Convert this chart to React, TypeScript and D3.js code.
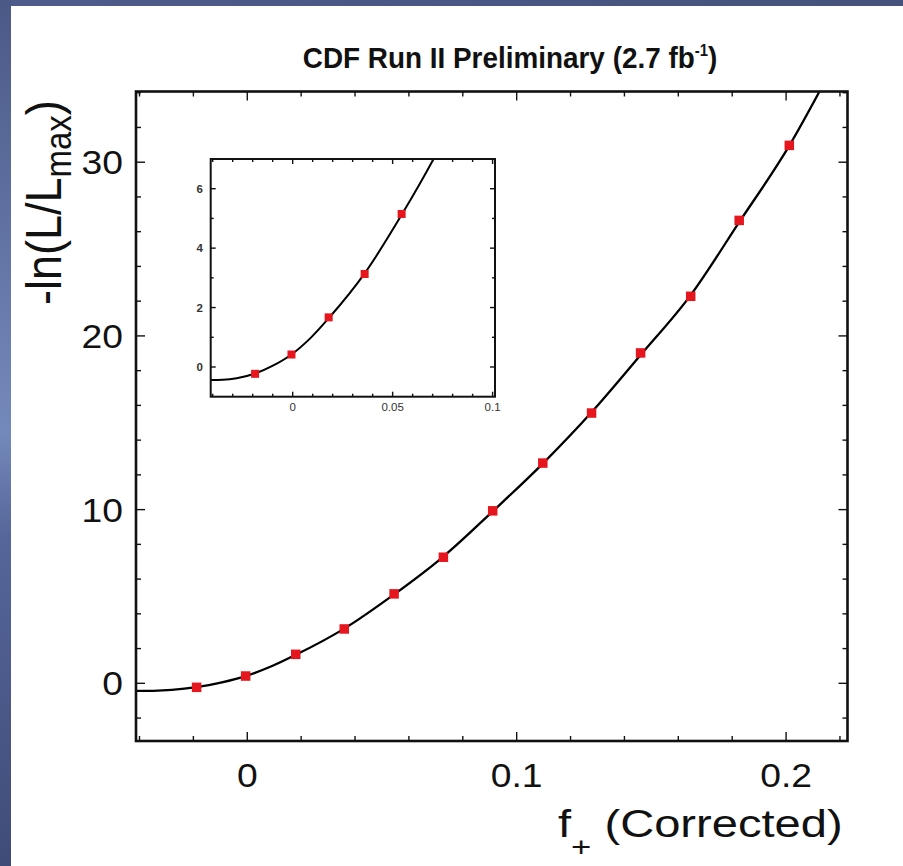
import React from "react";
import * as d3 from "d3";

// Scan points of the likelihood profile
const scanX = [-0.0188, -0.0006, 0.018, 0.036, 0.0545, 0.0728, 0.0911, 0.1097, 0.1278, 0.146, 0.1646, 0.1826, 0.2012];
const scanY = [-0.23, 0.42, 1.67, 3.13, 5.15, 7.26, 9.93, 12.68, 15.56, 19.02, 22.28, 26.65, 30.97];

// Fitted curve through the scan
const fitX = [-0.0413, -0.035, -0.028, -0.0188, -0.0094, -0.0006, 0.009, 0.018, 0.036, 0.0545, 0.0728, 0.0911, 0.1097, 0.1278, 0.146, 0.1646, 0.1826, 0.2012, 0.2125, 0.22];
const fitY = [-0.44, -0.43, -0.38, -0.22, 0.06, 0.42, 0.98, 1.64, 3.15, 5.12, 7.3, 9.9, 12.65, 15.6, 18.9, 22.35, 26.55, 30.95, 34.1, 36.3];

// Axis ticks
const mainXTicks = [0, 0.1, 0.2];
const mainXTickLabels = ["0", "0.1", "0.2"];
const mainYTicks = [0, 10, 20, 30];
const mainYTickLabels = ["0", "10", "20", "30"];
const insetXTicks = [0, 0.05, 0.1];
const insetXTickLabels = ["0", "0.05", "0.1"];
const insetYTicks = [0, 2, 4, 6];
const insetYTickLabels = ["0", "2", "4", "6"];

const FONT = "'Liberation Sans', Arial, Helvetica, sans-serif";

type Pt = { x: number; y: number };
const scan: Pt[] = scanX.map((x, i) => ({ x, y: scanY[i] }));
const fit: Pt[] = fitX.map((x, i) => ({ x, y: fitY[i] }));

interface FrameProps {
  x: d3.ScaleLinear<number, number>;
  y: d3.ScaleLinear<number, number>;
  xMinor: number[];
  yMinor: number[];
  xMajor: number[];
  yMajor: number[];
  majorLen: number;
  minorLen: number;
  stroke: number;
}

function Frame({ x, y, xMinor, yMinor, xMajor, yMajor, majorLen, minorLen, stroke }: FrameProps) {
  const [x0, x1] = x.range();
  const [y0, y1] = y.range(); // y0 bottom, y1 top
  const isMajor = (v: number, arr: number[]) => arr.some((m) => Math.abs(m - v) < 1e-9);
  const ticks: React.ReactElement[] = [];
  xMinor.forEach((v, i) => {
    const px = x(v);
    if (px < x0 + 1 || px > x1 - 1) return;
    const len = isMajor(v, xMajor) ? majorLen : minorLen;
    ticks.push(<line key={`xb${i}`} x1={px} x2={px} y1={y0} y2={y0 - len} />);
    ticks.push(<line key={`xt${i}`} x1={px} x2={px} y1={y1} y2={y1 + len} />);
  });
  yMinor.forEach((v, i) => {
    const py = y(v);
    if (py > y0 - 1 || py < y1 + 1) return;
    const len = isMajor(v, yMajor) ? majorLen : minorLen;
    ticks.push(<line key={`yl${i}`} x1={x0} x2={x0 + len} y1={py} y2={py} />);
    ticks.push(<line key={`yr${i}`} x1={x1} x2={x1 - len} y1={py} y2={py} />);
  });
  return (
    <g>
      <g stroke="#111" strokeWidth={1.4}>{ticks}</g>
      <rect x={x0} y={y1} width={x1 - x0} height={y0 - y1} fill="none" stroke="#111" strokeWidth={stroke} />
    </g>
  );
}

export default function App() {
  const W = 903;
  const H = 866;

  // main panel
  const x = d3.scaleLinear().domain([-0.0413, 0.2228]).range([136, 847.5]);
  const y = d3.scaleLinear().domain([-3.32, 34.07]).range([741, 91.5]);

  // inset panel
  const xi = d3.scaleLinear().domain([-0.041, 0.1012]).range([210.7, 495]);
  const yi = d3.scaleLinear().domain([-1, 7]).range([396.7, 159]);

  const line = d3
    .line<Pt>()
    .x((d) => x(d.x))
    .y((d) => y(d.y))
    .curve(d3.curveMonotoneX);
  const lineInset = d3
    .line<Pt>()
    .x((d) => xi(d.x))
    .y((d) => yi(d.y))
    .curve(d3.curveMonotoneX);

  const mainXMinor = d3.range(-0.04, 0.2201, 0.02).map((v) => +v.toFixed(4));
  const mainYMinor = d3.range(-2, 34.01, 2);
  const insetXMinor = d3.range(-0.04, 0.1001, 0.01).map((v) => +v.toFixed(4));
  const insetYMinor = d3.range(-1, 7.01, 1);

  const ms = 9.5;
  const msi = 8;
  const red = "#e5161d";
  const sx = 1.13;

  const insetPts = scan.filter((d) => d.x >= xi.domain()[0] && d.x <= xi.domain()[1] && d.y >= yi.domain()[0] && d.y <= yi.domain()[1]);

  return (
    <svg width={W} height={H} style={{ position: "absolute", left: 0, top: 0, display: "block" }} fontFamily={FONT}>
      <defs>
        <linearGradient id="sideBand" x1="0" y1="0" x2="0" y2="1">
          <stop offset="0" stopColor="#4b5987" />
          <stop offset="0.5" stopColor="#7489bb" />
          <stop offset="0.62" stopColor="#56669a" />
          <stop offset="1" stopColor="#3f4c78" />
        </linearGradient>
        <linearGradient id="topBand" x1="0" y1="0" x2="1" y2="0">
          <stop offset="0" stopColor="#4e5c8b" />
          <stop offset="1" stopColor="#44527d" />
        </linearGradient>
        <clipPath id="mainClip">
          <rect x={136} y={91.5} width={847.5 - 136} height={741 - 91.5} />
        </clipPath>
        <clipPath id="insetClip">
          <rect x={210.7} y={159} width={495 - 210.7} height={396.7 - 159} />
        </clipPath>
      </defs>

      <rect x={0} y={0} width={W} height={H} fill="#ffffff" />
      <rect x={0} y={0} width={W} height={6} fill="url(#topBand)" />
      <rect x={0} y={0} width={11} height={H} fill="url(#sideBand)" />

      {/* title */}
      <text transform="translate(510,68) scale(0.93,1)" textAnchor="middle" fontSize={30} fontWeight="bold" fill="#111">
        CDF Run II Preliminary (2.7 fb
        <tspan fontSize={16} dy={-12}>-1</tspan>
        <tspan dy={12}>)</tspan>
      </text>

      {/* main fit curve and scan points */}
      <g clipPath="url(#mainClip)">
        <path d={line(fit) || ""} fill="none" stroke="#000" strokeWidth={2.3} />
      </g>
      {scan.map((d, i) => (
        <rect key={i} x={x(d.x) - ms / 2} y={y(d.y) - ms / 2} width={ms} height={ms} fill={red} />
      ))}

      <Frame x={x} y={y} xMinor={mainXMinor} yMinor={mainYMinor} xMajor={mainXTicks} yMajor={mainYTicks} majorLen={9} minorLen={5} stroke={2.6} />

      {/* main tick labels */}
      {mainXTicks.map((v, i) => (
        <text key={`mx${i}`} transform={`translate(${x(v)},787) scale(${sx},1)`} textAnchor="middle" fontSize={33} fill="#111">
          {mainXTickLabels[i]}
        </text>
      ))}
      {mainYTicks.map((v, i) => (
        <text key={`my${i}`} transform={`translate(123,${y(v) + 12}) scale(${sx},1)`} textAnchor="end" fontSize={33} fill="#111">
          {mainYTickLabels[i]}
        </text>
      ))}

      {/* axis titles */}
      <text transform={`translate(558,837) scale(1.24,1)`} fontSize={38} fill="#111">
        f
        <tspan fontSize={28} dy={19}>+</tspan>
        <tspan dy={-19}> (Corrected)</tspan>
      </text>
      <text transform={`translate(61,305) scale(1.1,1) rotate(-90)`} fontSize={45} fill="#111">
        -ln(L/L
        <tspan fontSize={33} dy={9}>max</tspan>
        <tspan dy={-9}>)</tspan>
      </text>

      {/* inset */}
      <rect x={210.7} y={159} width={495 - 210.7} height={396.7 - 159} fill="#fff" />
      <g clipPath="url(#insetClip)">
        <path d={lineInset(fit) || ""} fill="none" stroke="#000" strokeWidth={2} />
      </g>
      {insetPts.map((d, i) => (
        <rect key={`ip${i}`} x={xi(d.x) - msi / 2} y={yi(d.y) - msi / 2} width={msi} height={msi} fill={red} />
      ))}
      <Frame x={xi} y={yi} xMinor={insetXMinor} yMinor={insetYMinor} xMajor={insetXTicks} yMajor={insetYTicks} majorLen={5} minorLen={3} stroke={2} />
      {insetXTicks.map((v, i) => (
        <text key={`ix${i}`} x={xi(v)} y={411} textAnchor="middle" fontSize={11.5} fill="#333">
          {insetXTickLabels[i]}
        </text>
      ))}
      {insetYTicks.map((v, i) => (
        <text key={`iy${i}`} x={203} y={yi(v) + 4} textAnchor="end" fontSize={11.5} fontWeight="bold" fill="#333">
          {insetYTickLabels[i]}
        </text>
      ))}
    </svg>
  );
}
